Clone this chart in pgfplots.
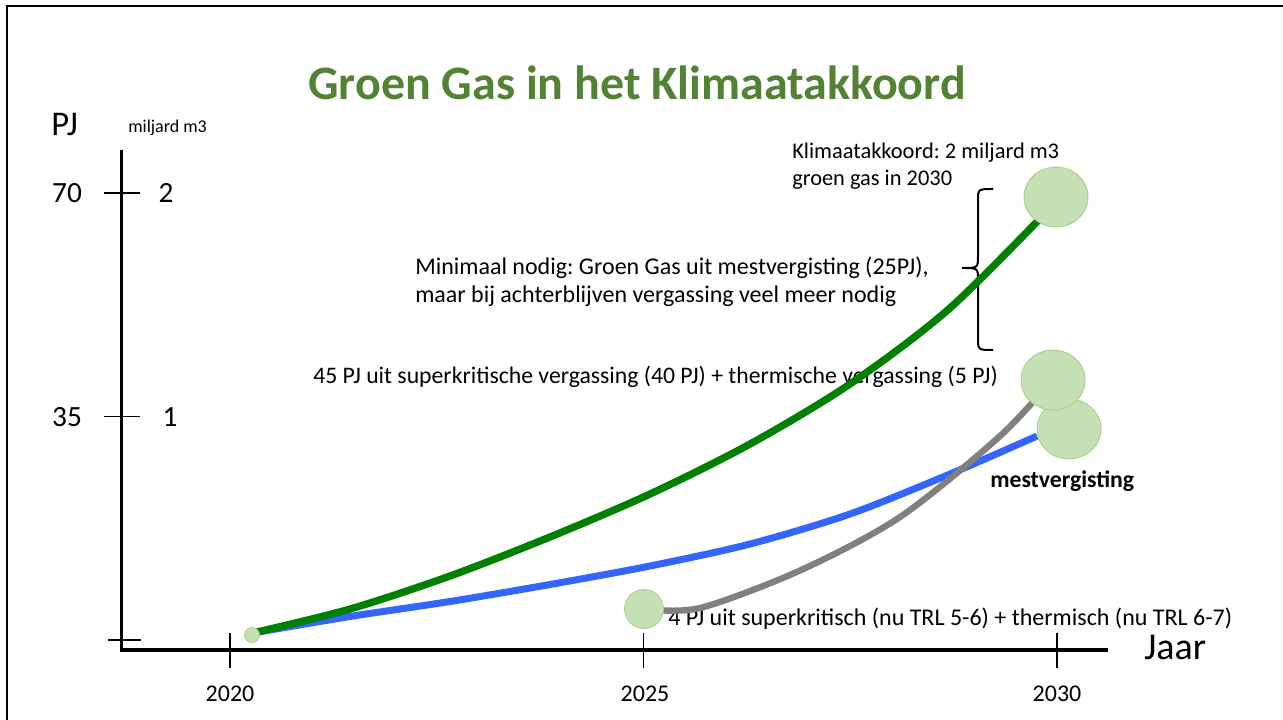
\documentclass[border=0pt]{standalone}
\usepackage{pgfplots}
\pgfplotsset{compat=1.18}
\usepackage{fontspec}
\setmainfont{Carlito}
\frenchspacing
\definecolor{titlegreen}{RGB}{84,130,53}
\definecolor{cfill}{RGB}{197,224,180}
\definecolor{cborder}{RGB}{169,209,142}
\definecolor{lgreen}{RGB}{0,128,0}
\definecolor{lblue}{RGB}{51,102,255}
\definecolor{lgray}{RGB}{128,128,128}
\newcommand{\fs}[1]{\fontsize{#1bp}{1.2\dimexpr #1bp\relax}\selectfont}
\begin{document}
\begin{tikzpicture}
\path[use as bounding box] (0,0) rectangle (962.25bp,540bp);
\begin{scope}[x=0.75bp, y=-0.75bp, shift={(0bp,540bp)}]
% frame
\draw[line width=1.5bp] (7,720) -- (7,6) -- (1283,6);
% title
\node[inner sep=0, text=titlegreen, font=\fs{36}\bfseries] at (637,83) {Groen Gas in het Klimaatakkoord};
% y labels
\node[anchor=west, inner sep=0, font=\fs{26}] at (51,125) {PJ};
\node[anchor=west, inner sep=0, font=\fs{13.5}] at (128,128) {miljard m3};
\node[inner sep=0, font=\fs{22}] at (67,193) {70};
\node[inner sep=0, font=\fs{22}] at (67,417) {35};
\node[inner sep=0, font=\fs{22}] at (166,193) {2};
\node[inner sep=0, font=\fs{22}] at (170,417) {1};
% x labels
\node[inner sep=0, font=\fs{18}] at (230,694) {2020};
\node[inner sep=0, font=\fs{18}] at (645,694) {2025};
\node[inner sep=0, font=\fs{18}] at (1057,694) {2030};
\node[anchor=west, inner sep=0, font=\fs{28.5}] at (1144,647) {Jaar};
% annotations
\node[anchor=west, inner sep=0, font=\fs{16.8}] at (792,153) {Klimaatakkoord: 2 miljard m3};
\node[anchor=west, inner sep=0, font=\fs{16.8}] at (792,180) {groen gas in 2030};
\node[anchor=west, inner sep=0, font=\fs{18}] at (415,268) {Minimaal nodig: Groen Gas uit mestvergisting (25PJ),};
\node[anchor=west, inner sep=0, font=\fs{18}] at (415,296) {maar bij achterblijven vergassing veel meer nodig};
\node[anchor=west, inner sep=0, font=\fs{17.8}] at (313,377) {45 PJ uit superkritische vergassing (40 PJ) + thermische vergassing (5 PJ)};
\node[anchor=west, inner sep=0, font=\fs{17.8}\bfseries] at (990,481) {mestvergisting};
\node[anchor=west, inner sep=0, font=\fs{18}] at (668,619) {4 PJ uit superkritisch (nu TRL 5-6) + thermisch (nu TRL 6-7)};
% brace
\draw[line width=1.5bp] (993,189) .. controls (978,189) .. (978,201) -- (978,256)
  .. controls (978,268) .. (962,268) .. controls (978,268) .. (978,280) -- (978,338)
  .. controls (978,350) .. (993,350);
\end{scope}
\begin{axis}[at={(0,0)}, anchor=south west, scale only axis,
  width=962.25bp, height=540bp,
  xmin=2017.2189, xmax=2032.7328, ymin=-12.527, ymax=100.219,
  axis lines=none, clip=false]
% axis lines and ticks
\draw[line width=2.25bp] (axis cs:2018.682,76.8) -- (axis cs:2018.682,-1.9);
\draw[line width=3bp] (axis cs:2018.682,-1.6) -- (axis cs:2030.617,-1.6);
\draw[line width=1bp] (axis cs:2018.476,70) -- (axis cs:2018.912,70);
\draw[line width=1bp] (axis cs:2018.476,35) -- (axis cs:2018.912,35);
\draw[line width=1bp] (axis cs:2018.525,0) -- (axis cs:2018.924,0);
\draw[line width=1bp] (axis cs:2020,1.1) -- (axis cs:2020,-4.4);
\draw[line width=1bp] (axis cs:2025,1.1) -- (axis cs:2025,-4.4);
\draw[line width=1bp] (axis cs:2030,1.1) -- (axis cs:2030,-4.4);
% blue: mestvergisting
\addplot[smooth, line width=5.25bp, color=lblue] coordinates {
(2020.278,1.10) (2021.451,3.68) (2022.660,6.03) (2023.869,8.69) (2025.079,11.59)
(2026.288,15.03) (2027.497,19.73) (2028.706,25.99) (2029.758,31.94)};
% circles
\addplot[only marks, mark=*, mark size=5.6, mark options={fill=cfill, draw=cborder, line width=0.75bp}] coordinates {(2020.266,0.78)};
\addplot[only marks, mark=*, mark size=14.6, mark options={fill=cfill, draw=cborder, line width=0.75bp}] coordinates {(2025.006,4.85)};
\addplot[only marks, mark=*, mark size=22.5, mark options={xscale=1.07, fill=cfill, draw=cborder, line width=0.75bp}] coordinates {(2029.988,69.37) (2030.145,33.04) (2029.952,40.71)};
% green: total
\addplot[smooth, line width=5.5bp, color=lgreen] coordinates {
(2020.278,1.10) (2021.451,4.85) (2022.660,10.02) (2023.869,16.13) (2025.079,22.86)
(2026.288,30.69) (2027.497,40.09) (2028.706,51.99) (2030.0,68.74)};
% gray: vergassing
\addplot[smooth, line width=4.75bp, color=lgray] coordinates {
(2025.018,4.85) (2025.683,5.01) (2026.892,10.88) (2028.102,19.26) (2029.311,31.94)
(2029.940,40.71)};
\end{axis}
\end{tikzpicture}
\end{document}
